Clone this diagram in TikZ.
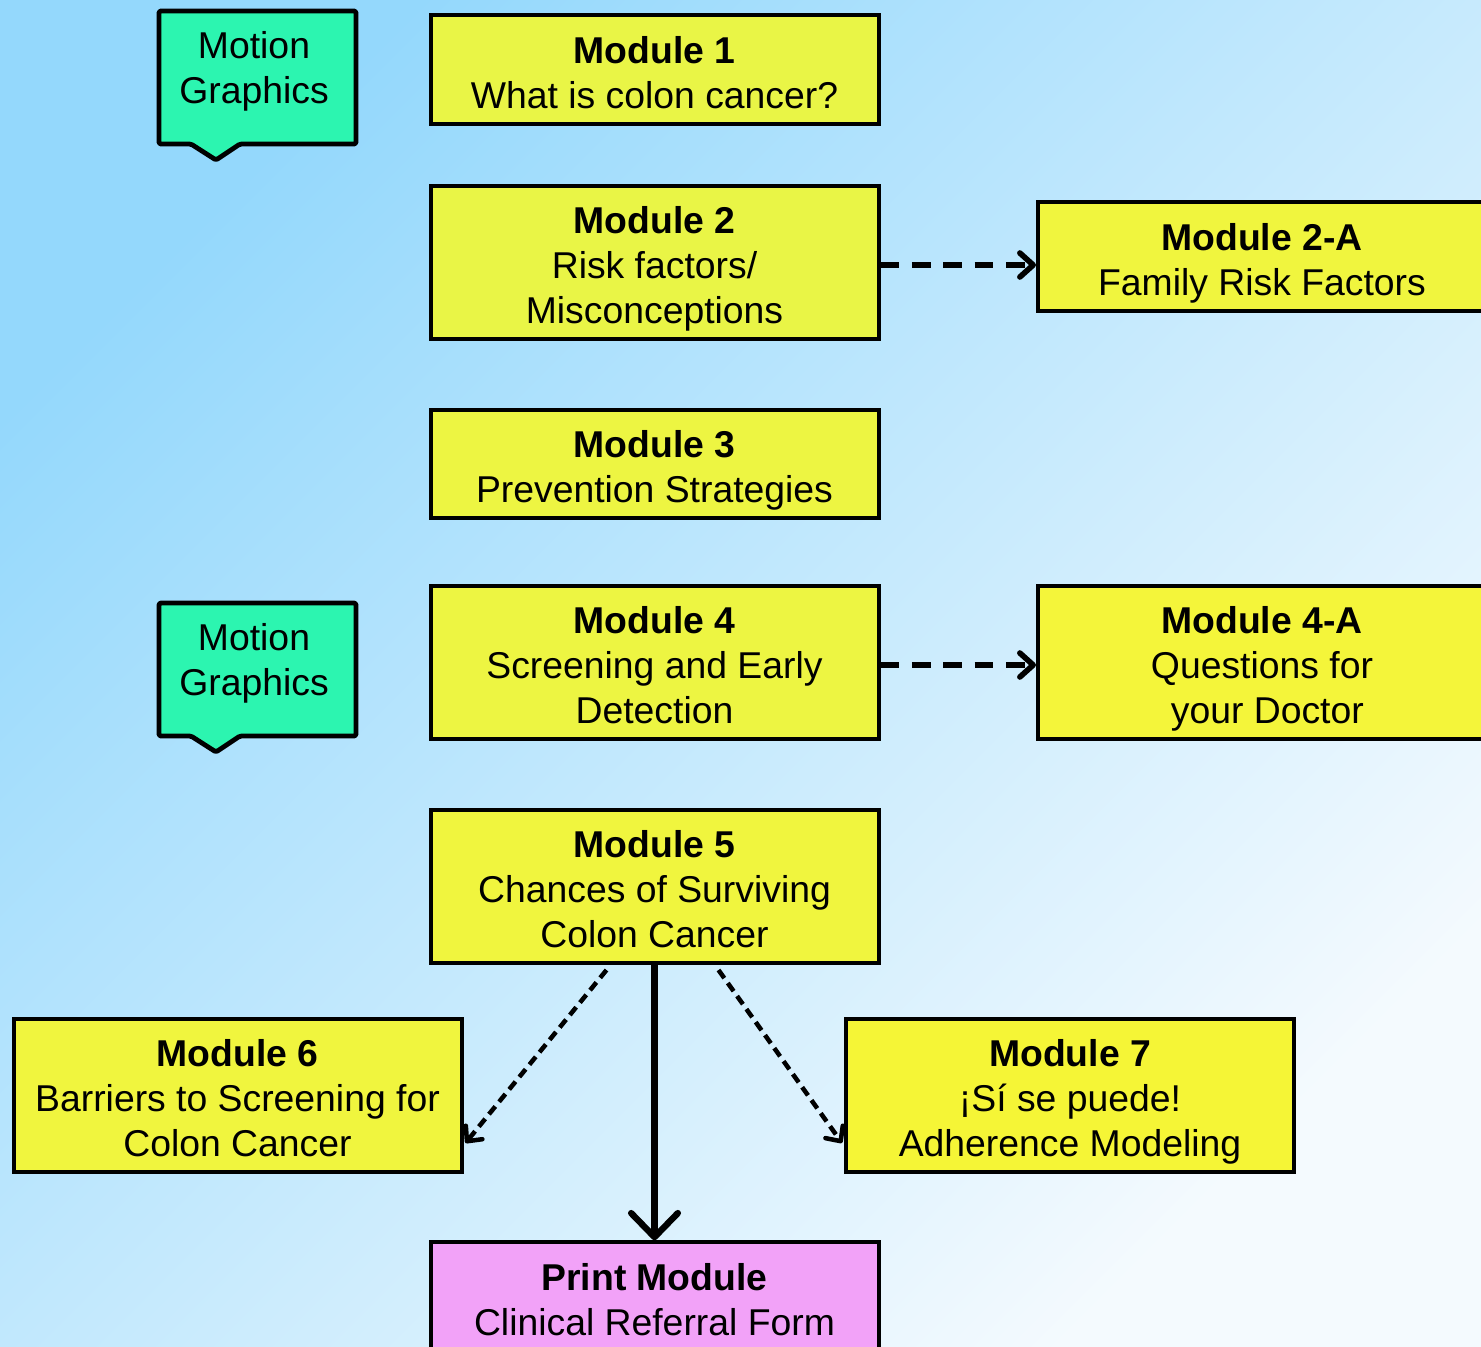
\documentclass[tikz,border=0pt]{standalone}
\usepackage{fontspec}
\setmainfont{Liberation Sans}
\usetikzlibrary{arrows.meta,calc}
\definecolor{bgA}{RGB}{148,216,252}
\definecolor{bgB}{RGB}{244,250,254}
\definecolor{yA}{RGB}{233,245,70}
\definecolor{yB}{RGB}{237,245,66}
\definecolor{yC}{RGB}{240,245,62}
\definecolor{yD}{RGB}{244,245,58}
\definecolor{yE}{RGB}{245,245,54}
\definecolor{mgG}{RGB}{44,245,176}
\definecolor{prP}{RGB}{242,162,248}
\pgfdeclarelayer{bg}\pgfdeclarelayer{mid}\pgfsetlayers{bg,mid,main}
\newcommand\modfont{\fontsize{28pt}{33.75pt}\selectfont}
\newcommand\htop{\rule{0pt}{31pt}}
\newcommand\hbot{\rule[-6.6pt]{0pt}{6.6pt}}
\tikzset{
  mod/.style={draw=black, line width=3pt, fill=yC, align=center, inner sep=0pt,
    minimum width=336pt, font=\modfont},
  shortbox/.style={minimum height=81.3pt},
  tallbox/.style={minimum height=114.75pt},
  printbox/.style={mod, fill=prP},
  mgtext/.style={align=center, inner sep=0pt, font=\modfont},
  callout/.style={draw=black, fill=mgG, line width=3.6pt, line join=round, rounded corners=1.2pt},
  dasharrow/.style={line width=4.2pt, dash pattern=on 14pt off 9.5pt,
    -{Straight Barb[length=10pt,width=18pt,line cap=round,line join=round]}},
  diagarrow/.style={line width=3.4pt, dash pattern=on 7.5pt off 4.5pt,
    -{Straight Barb[length=8.5pt,width=16pt,line cap=round,line join=round]}},
  mainarrow/.style={line width=4.8pt,
    -{Straight Barb[length=18pt,width=35pt,line cap=round,line join=round]}}
}
\begin{document}
\begin{tikzpicture}[x=0.75pt,y=-0.75pt]
\useasboundingbox (0,0) rectangle (1481,1346);
\clip (0,0) rectangle (1481,1346);
\begin{pgfonlayer}{bg}
\shade[top color=bgA, bottom color=bgB, shading angle=45] (0,0) rectangle (1481,1346);
\end{pgfonlayer}

% Motion graphics callouts
\node[mgtext] (mg1) at (254,71) {Motion\\Graphics};
\node[mgtext] (mg2) at (254,663) {Motion\\Graphics};
\begin{pgfonlayer}{mid}
\foreach \n in {mg1,mg2}{
  \draw[callout] ($(\n.center)+(-95,-60)$) -- ($(\n.center)+(102,-60)$)
    -- ($(\n.center)+(102,73)$) -- ($(\n.center)+(-14,73)$)
    -- ($(\n.center)+(-38,89)$) -- ($(\n.center)+(-63,73)$)
    -- ($(\n.center)+(-95,73)$) -- cycle;
}
\end{pgfonlayer}

% Modules
\node[mod,shortbox,fill=yA] (m1) at (654.5,69.5) {\htop\textbf{Module 1}\\What is colon cancer?\hbot};
\node[mod,tallbox,fill=yA] (m2) at (654.5,262.5) {\htop\textbf{Module 2}\\Risk factors/\\Misconceptions\hbot};
\node[mod,shortbox,fill=yC] (m2a) at (1262,256.5) {\htop\textbf{Module 2-A}\\Family Risk Factors\hbot};
\node[mod,shortbox,fill=yB] (m3) at (654.5,464) {\htop\textbf{Module 3}\\Prevention Strategies\hbot};
\node[mod,tallbox,fill=yB] (m4) at (654.5,662.5) {\htop\textbf{Module 4}\\Screening and Early\\Detection\hbot};
\node[mod,tallbox,fill=yD] (m4a) at (1262,662.5) {\htop\textbf{Module 4-A}\\Questions for\\\hspace*{8pt}your Doctor\hbot};
\node[mod,tallbox,fill=yC] (m5) at (654.5,886.5) {\htop\textbf{Module 5}\\Chances of Surviving\\Colon Cancer\hbot};
\node[mod,tallbox,fill=yC] (m6) at (237.5,1095) {\htop\textbf{Module 6}\\Barriers to Screening for\\Colon Cancer\hbot};
\node[mod,tallbox,fill=yE] (m7) at (1070,1095) {\htop\textbf{Module 7}\\¡Sí se puede!\\Adherence Modeling\hbot};
\node[printbox,shortbox] (pr) at (654.5,1296.5) {\htop\textbf{Print Module}\\Clinical Referral Form\hbot};

% Connectors
\coordinate (a2) at ([shift={(0,2.5)}]m2.east);
\coordinate (a4) at ([shift={(0,2.5)}]m4.east);
\draw[dasharrow] (a2) -- (m2a.west |- a2);
\draw[dasharrow] (a4) -- (m4a.west |- a4);
\draw[mainarrow] (m5.south) -- (pr.north);
\draw[diagarrow] ([shift={(-48,5)}]m5.south) -- ([shift={(2,48)}]m6.east);
\draw[diagarrow] ([shift={(64,5)}]m5.south) -- ([shift={(-2,48)}]m7.west);
\end{tikzpicture}
\end{document}
